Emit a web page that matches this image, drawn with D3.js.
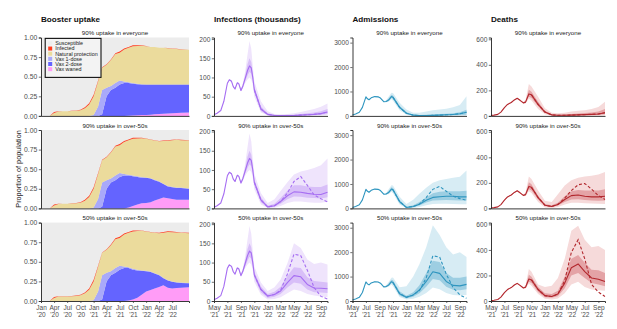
<!DOCTYPE html>
<html><head><meta charset="utf-8">
<script src="https://cdn.jsdelivr.net/npm/d3@7/dist/d3.min.js"></script>
<style>
body{margin:0;background:#fff}
svg{display:block}
text{font-family:"Liberation Sans",Arial,sans-serif}
</style>
</head><body>
<svg id="chart" width="617" height="329"></svg>
<script>
// ---------- Booster uptake: population compartments (proportions) ----------
const popDates = ["2020-03-01","2020-04-01","2020-05-01","2020-06-01","2020-07-01","2020-08-01","2020-09-01","2020-10-01","2020-11-01","2020-12-01",
  "2021-01-01","2021-02-01","2021-03-01","2021-04-01","2021-05-01","2021-06-01","2021-07-01","2021-08-01","2021-09-01","2021-10-01","2021-11-01","2021-12-01",
  "2022-01-01","2022-02-01","2022-03-01","2022-04-01","2022-05-01","2022-06-01","2022-07-01","2022-08-01","2022-09-01","2022-10-26"];
const layerNames = ["Susceptible","Infected","Natural protection","Vax 1-dose","Vax 2-dose","Vax waned"];
const layerColors = ["#ececec","#ff3d1f","#ebdb9c","#a9a9fa","#6464ff","#ff9cf7"];

// scenario 1: 90% uptake in everyone
const s1Infected = [0,.012,.003,.002,.002,.003,.005,.008,.012,.015,.02,.012,.006,.006,.008,.012,.015,.012,.01,.012,.008,.004,.002,.002,.002,.002,.002,.002,.002,.002,.002,.002];
const s1Natural  = [0,.038,.057,.058,.058,.062,.065,.072,.098,.145,.24,.318,.284,.294,.332,.368,.355,.408,.44,.468,.482,.491,.488,.478,.478,.468,.468,.463,.458,.453,.448,.443];
const s1Dose1    = [0,0,0,0,0,0,0,0,0,0,.01,.12,.31,.11,.05,.06,.05,.02,.01,.01,.005,.005,0,0,0,0,0,0,0,0,0,0];
const s1Dose2    = [0,0,0,0,0,0,0,0,0,0,0,0,.02,.25,.33,.36,.40,.42,.418,.405,.397,.39,.387,.384,.38,.377,.374,.37,.367,.364,.36,.357];
const s1Waned    = [0,0,0,0,0,0,0,0,0,0,0,0,0,0,0,0,0,0,.002,.005,.008,.01,.013,.016,.02,.023,.026,.03,.033,.036,.04,.043];
// scenario 2: 90% uptake in over-50s
const s2Infected = [0,.012,.003,.002,.002,.003,.005,.008,.012,.015,.02,.012,.006,.006,.008,.012,.015,.012,.01,.012,.008,.004,.003,.003,.003,.004,.005,.006,.006,.005,.005,.005];
const s2Natural  = [0,.038,.057,.058,.058,.062,.065,.072,.098,.145,.24,.318,.284,.294,.332,.368,.355,.408,.44,.468,.482,.496,.492,.492,.502,.511,.545,.579,.594,.61,.605,.61];
const s2Dose1    = [0,0,0,0,0,0,0,0,0,0,.01,.12,.31,.11,.05,.06,.05,.02,.01,.01,.01,.01,.005,.005,.005,.005,.005,.005,.005,.005,.005,.005];
const s2Dose2    = [0,0,0,0,0,0,0,0,0,0,0,0,.02,.25,.33,.36,.40,.42,.41,.38,.35,.325,.32,.30,.26,.22,.17,.15,.15,.15,.15,.14];
const s2Waned    = [0,0,0,0,0,0,0,0,0,0,0,0,0,0,0,0,0,0,.01,.03,.05,.065,.07,.08,.10,.12,.14,.13,.12,.11,.11,.11];
// scenario 3: 50% uptake in over-50s
const s3Infected = [0,.012,.003,.002,.002,.003,.005,.008,.012,.015,.02,.012,.006,.006,.008,.012,.015,.012,.01,.012,.008,.005,.004,.004,.005,.007,.01,.01,.008,.006,.005,.005];
const s3Natural  = [0,.038,.057,.058,.058,.062,.065,.072,.098,.145,.24,.318,.284,.294,.332,.368,.355,.408,.44,.478,.492,.505,.501,.501,.515,.528,.575,.615,.627,.634,.635,.635];
const s3Dose1    = [0,0,0,0,0,0,0,0,0,0,.01,.12,.31,.11,.05,.06,.05,.02,.01,.01,.01,.005,.005,.005,.005,.005,.005,.005,.005,.005,.005,.005];
const s3Dose2    = [0,0,0,0,0,0,0,0,0,0,0,0,.02,.25,.33,.36,.40,.42,.415,.38,.35,.305,.26,.23,.19,.15,.09,.09,.085,.07,.06,.05];
const s3Waned    = [0,0,0,0,0,0,0,0,0,0,0,0,0,0,0,0,0,0,.005,.02,.04,.08,.12,.14,.16,.18,.20,.17,.16,.165,.17,.175];

const scenarioTitles = ["90% uptake in everyone","90% uptake in over-50s","50% uptake in over-50s"];
const quarterTicks = ["2020-01-01","2020-04-01","2020-07-01","2020-10-01","2021-01-01","2021-04-01","2021-07-01","2021-10-01","2022-01-01","2022-04-01","2022-07-01"];
const bimonthTicks = ["2021-05-01","2021-07-01","2021-09-01","2021-11-01","2022-01-01","2022-03-01","2022-05-01","2022-07-01","2022-09-01"];

// ---------- Outcomes: fitted period ----------
const infFitDates = ["2021-05-01","2021-05-15","2021-06-01","2021-06-15","2021-07-01","2021-07-10","2021-07-20","2021-07-28","2021-08-05","2021-08-15","2021-08-22","2021-09-01","2021-09-10","2021-09-20","2021-10-01","2021-10-10","2021-10-18","2021-10-25"];
const infFitMid  = [3,7,14,38,85,94,90,76,70,86,84,66,78,97,118,130,125,100];
const infFitLo50 = [3,7,14,38,84,93,89,75,69,85,83,65,75,90,105,115,110,90];
const infFitHi50 = [3,7,14,38,86,95,91,77,71,87,85,68,81,104,135,150,140,112];
const infFitLo95 = [3,7,14,37,83,92,88,74,68,83,81,63,72,85,95,100,95,80];
const infFitHi95 = [3,7,14,39,87,96,92,78,72,89,87,70,86,115,160,195,175,130];

const admFitDates = ["2021-05-01","2021-05-15","2021-06-01","2021-06-15","2021-07-01","2021-07-08","2021-07-15","2021-07-25","2021-08-10","2021-08-25","2021-09-05","2021-09-20","2021-10-01","2021-10-12","2021-10-25"];
const admFitMid  = [40,80,150,350,780,700,660,740,790,780,730,580,590,650,790];
const admFitLo50 = [40,80,150,348,775,695,655,735,785,775,725,575,575,615,735];
const admFitHi50 = [40,80,150,352,785,705,665,745,795,785,735,588,615,715,870];
const admFitLo95 = [40,80,150,345,770,690,650,730,780,770,720,570,560,580,680];
const admFitHi95 = [40,80,150,355,790,710,670,750,800,790,740,595,640,780,950];

const dthFitDates = ["2021-05-01","2021-05-15","2021-06-01","2021-06-15","2021-07-01","2021-07-15","2021-08-01","2021-08-15","2021-08-28","2021-09-10","2021-09-25","2021-10-05","2021-10-20"];
const dthFitMid  = [3,6,12,30,65,90,105,125,138,122,102,108,172];
const dthFitLo50 = [3,6,12,30,64,88,104,123,136,120,99,103,150];
const dthFitHi50 = [3,6,12,30,66,92,106,127,140,124,105,115,205];
const dthFitLo95 = [3,6,12,29,63,87,102,121,133,117,96,98,135];
const dthFitHi95 = [3,6,12,31,67,93,108,129,143,127,108,125,250];

// ---------- Outcomes: projections (monthly) ----------
const projDates = ["2021-11-01","2021-12-01","2022-01-01","2022-02-01","2022-03-01","2022-04-01","2022-05-01","2022-06-01","2022-07-01","2022-08-01","2022-09-01","2022-10-01"];

const infA_mid  = [68,18,4,1,1,1,1,2,3,4,6,10];
const infA_dash = [68,18,4,1,1,1,1,2,3,4,6,10];
const infA_lo50 = [60,13,2,0,0,0,0,1,1,2,3,5];
const infA_hi50 = [76,25,7,3,2,3,3,5,7,9,12,18];
const infA_lo95 = [50,9,1,0,0,0,0,0,0,1,1,2];
const infA_hi95 = [90,38,12,5,4,5,7,10,14,18,24,32];

const infB_mid  = [68,22,4,7,18,33,43,42,39,37,36,42];
const infB_dash = [68,22,4,7,18,40,70,83,60,35,25,17];
const infB_lo50 = [60,16,2,4,12,24,31,30,28,27,26,29];
const infB_hi50 = [76,29,7,12,27,46,60,60,57,56,56,62];
const infB_lo95 = [50,10,1,2,6,14,18,18,16,15,15,17];
const infB_hi95 = [90,40,14,24,45,68,88,96,100,105,112,130];

const infC_mid  = [68,30,13,17,26,48,66,63,43,34,33,32];
const infC_dash = [68,30,13,17,28,70,122,118,80,35,12,5];
const infC_lo50 = [60,23,8,11,18,35,48,45,30,23,22,21];
const infC_hi50 = [76,38,18,24,37,65,88,86,62,52,50,48];
const infC_lo95 = [50,16,4,5,10,20,30,26,18,14,12,10];
const infC_hi95 = [90,48,26,36,56,98,150,138,108,96,100,95];

const admA_mid  = [760,350,110,30,15,15,20,30,45,60,90,150];
const admA_dash = [760,350,110,30,15,15,20,30,45,60,90,150];
const admA_lo50 = [700,300,85,20,10,10,12,15,20,25,35,50];
const admA_hi50 = [840,420,160,50,35,45,60,75,90,110,150,250];
const admA_lo95 = [620,230,50,6,3,3,3,4,5,6,8,10];
const admA_hi95 = [940,540,260,130,130,180,230,260,290,350,450,800];

const admB_mid  = [760,280,40,80,170,330,450,480,500,500,470,470];
const admB_dash = [760,280,40,80,175,450,780,900,700,500,400,330];
const admB_lo50 = [700,220,20,50,120,240,320,330,340,330,320,320];
const admB_hi50 = [840,350,70,130,260,450,620,680,700,700,700,720];
const admB_lo95 = [620,160,8,20,60,130,180,190,190,180,170,170];
const admB_hi95 = [940,480,180,350,600,850,1050,1150,1200,1250,1300,1550];

const admC_mid  = [760,300,150,250,450,800,1200,1130,800,640,620,680];
const admC_dash = [760,300,150,250,420,950,1850,1800,1100,550,250,110];
const admC_lo50 = [690,230,100,170,320,580,900,850,580,460,440,480];
const admC_hi50 = [850,400,220,360,650,1150,1650,1600,1150,950,950,1000];
const admC_lo95 = [600,160,60,90,170,330,550,480,330,250,230,250];
const admC_hi95 = [960,560,600,1000,1500,2200,3100,2700,2200,1900,2000,1800];

const dthA_mid  = [165,90,30,8,5,5,6,8,10,12,15,25];
const dthA_dash = [165,90,30,8,5,5,6,8,10,12,15,25];
const dthA_lo50 = [140,75,22,5,3,3,3,4,5,6,8,12];
const dthA_hi50 = [190,110,40,12,8,10,14,18,22,27,35,55];
const dthA_lo95 = [120,55,12,2,1,1,1,1,1,2,2,3];
const dthA_hi95 = [230,150,60,25,20,25,35,40,45,55,70,110];

const dthB_mid  = [165,85,25,15,30,70,100,105,95,90,90,95];
const dthB_dash = [165,85,25,15,32,80,140,185,195,150,100,70];
const dthB_lo50 = [140,70,18,10,22,50,70,72,65,62,60,62];
const dthB_hi50 = [190,100,35,25,45,95,135,145,140,140,140,150];
const dthB_lo95 = [120,50,8,4,10,30,45,45,40,38,36,35];
const dthB_hi95 = [230,140,60,50,110,180,220,240,250,255,265,285];

const dthC_mid  = [165,90,42,35,55,140,260,290,230,180,170,152];
const dthC_dash = [165,90,42,35,55,160,380,480,330,130,70,35];
const dthC_lo50 = [140,70,30,25,38,100,200,220,180,140,130,115];
const dthC_hi50 = [190,110,60,55,80,190,330,360,300,245,240,220];
const dthC_lo95 = [120,55,18,12,20,60,130,150,110,90,85,80];
const dthC_hi95 = [230,130,110,120,180,330,550,590,480,420,430,400];

// ---------- layout ----------
const parse = d3.timeParse("%Y-%m-%d");
const svg = d3.select("#chart");
const rowTops = [37.5, 130, 222.6];
const rowH = 78.4;
const tickFill = "#4d4d4d";
const monthFmt = d3.timeFormat("%b");
const yearFmt = d => "'" + d3.timeFormat("%y")(d);

function styleAxis(g, fs) {
  g.select(".domain").attr("stroke", "#222").attr("stroke-width", 0.9);
  g.selectAll(".tick line").attr("stroke", "#333").attr("stroke-width", 0.7);
  g.selectAll(".tick text").attr("fill", tickFill).attr("font-size", fs)
    .attr("font-family", '"Liberation Sans", Arial, sans-serif');
}

function bottomAxis(x, y0, tickDates, withLabels) {
  const g = svg.append("g").attr("transform", `translate(0,${y0})`)
    .call(d3.axisBottom(x).tickValues(tickDates.map(parse)).tickSize(withLabels ? 2 : 0).tickFormat(""));
  styleAxis(g, 6.5);
  if (withLabels) {
    g.selectAll(".tick").each(function(d) {
      const t = d3.select(this).append("text").attr("fill", tickFill).attr("font-size", 6.5)
        .attr("text-anchor", "middle").attr("y", 9.3);
      t.append("tspan").attr("x", 0).text(monthFmt(d));
      t.append("tspan").attr("x", 0).attr("dy", 7).text(yearFmt(d));
    });
  }
}

function panelTitle(text, xMid, top) {
  svg.append("text").attr("x", xMid).attr("y", top - 2.4).attr("text-anchor", "middle")
    .attr("font-size", 6.2).attr("fill", "#222").text(text);
}

// column headings
const headings = [["Booster uptake", 41], ["Infections (thousands)", 214], ["Admissions", 352.5], ["Deaths", 491]];
headings.forEach(([t, x]) => svg.append("text").attr("x", x).attr("y", 22.3)
  .attr("font-size", 8.1).attr("font-weight", "bold").attr("fill", "#111").text(t));

// y title
svg.append("text").attr("transform", "translate(21,169) rotate(-90)").attr("text-anchor", "middle")
  .attr("font-size", 7.3).attr("fill", "#222").text("Proportion of population");

// ---------- column 1: stacked compartments ----------
const xPop = d3.scaleTime().domain([parse("2020-01-01"), parse("2022-10-26")]).range([41, 189]);
const scenarios = [
  [s1Waned, s1Dose2, s1Dose1, s1Natural, s1Infected],
  [s2Waned, s2Dose2, s2Dose1, s2Natural, s2Infected],
  [s3Waned, s3Dose2, s3Dose1, s3Natural, s3Infected]
];
const stackKeys = ["waned", "dose2", "dose1", "natural", "infected"];
const stackColors = { waned: layerColors[5], dose2: layerColors[4], dose1: layerColors[3], natural: layerColors[2], infected: layerColors[1] };

scenarios.forEach((arrs, r) => {
  const top = rowTops[r], bottom = top + rowH;
  const y = d3.scaleLinear().domain([0, 1]).range([bottom, top]);
  const rows = popDates.map((d, i) => {
    const o = { date: parse(d) };
    stackKeys.forEach((k, j) => o[k] = arrs[j][i]);
    return o;
  });
  // susceptible fills the rest of the panel
  svg.append("rect").attr("x", xPop.range()[0]).attr("y", top)
    .attr("width", xPop.range()[1] - xPop.range()[0]).attr("height", rowH).attr("fill", layerColors[0]);
  const series = d3.stack().keys(stackKeys)(rows);
  const area = d3.area().x(d => xPop(d.data.date)).y0(d => y(d[0])).y1(d => y(d[1]));
  svg.append("g").selectAll("path").data(series).join("path")
    .attr("d", area).attr("fill", s => stackColors[s.key]);
  const ay = svg.append("g").attr("transform", "translate(41,0)")
    .call(d3.axisLeft(y).tickValues([0, .25, .5, .75, 1]).tickFormat(d3.format(".2f")).tickSize(2.2).tickPadding(1.5));
  styleAxis(ay, 6.8);
  bottomAxis(xPop, bottom, quarterTicks, r === 2);
  panelTitle(scenarioTitles[r], 115, top);
});

// legend
const leg = svg.append("g").attr("transform", "translate(45.2,38.4)");
leg.append("rect").attr("width", 55.8).attr("height", 39).attr("fill", "#f3f3f3").attr("stroke", "#111").attr("stroke-width", 1.1);
layerNames.forEach((n, i) => {
  const yy = 5 + i * 5.15;
  leg.append("rect").attr("x", 3).attr("y", yy - 2).attr("width", 4).attr("height", 4).attr("fill", layerColors[i]);
  leg.append("text").attr("x", 10).attr("y", yy + 1.9).attr("font-size", 5.4).attr("fill", "#222").text(n);
});

// ---------- columns 2-4: fitted + projected outcomes ----------
const metrics = [
  { x0: 214, x1: 327.5, ymax: 204, ticks: [0, 50, 100, 150, 200], line: "#a66ef2", c50: "#d8bff8", c95: "#efe4fc",
    fitDates: infFitDates, fit: [infFitMid, infFitLo50, infFitHi50, infFitLo95, infFitHi95],
    rows: [[infA_mid, infA_dash, infA_lo50, infA_hi50, infA_lo95, infA_hi95],
           [infB_mid, infB_dash, infB_lo50, infB_hi50, infB_lo95, infB_hi95],
           [infC_mid, infC_dash, infC_lo50, infC_hi50, infC_lo95, infC_hi95]] },
  { x0: 352.5, x1: 466.5, ymax: 3210, ticks: [0, 1000, 2000, 3000], line: "#2e95bf", c50: "#9dcee2", c95: "#d7ecf4",
    fitDates: admFitDates, fit: [admFitMid, admFitLo50, admFitHi50, admFitLo95, admFitHi95],
    rows: [[admA_mid, admA_dash, admA_lo50, admA_hi50, admA_lo95, admA_hi95],
           [admB_mid, admB_dash, admB_lo50, admB_hi50, admB_lo95, admB_hi95],
           [admC_mid, admC_dash, admC_lo50, admC_hi50, admC_lo95, admC_hi95]] },
  { x0: 491, x1: 605, ymax: 614, ticks: [0, 200, 400, 600], line: "#b2272d", c50: "#e4a3a6", c95: "#f6dada",
    fitDates: dthFitDates, fit: [dthFitMid, dthFitLo50, dthFitHi50, dthFitLo95, dthFitHi95],
    rows: [[dthA_mid, dthA_dash, dthA_lo50, dthA_hi50, dthA_lo95, dthA_hi95],
           [dthB_mid, dthB_dash, dthB_lo50, dthB_hi50, dthB_lo95, dthB_hi95],
           [dthC_mid, dthC_dash, dthC_lo50, dthC_hi50, dthC_lo95, dthC_hi95]] }
];

metrics.forEach(m => {
  const x = d3.scaleTime().domain([parse("2021-05-01"), parse("2022-10-01")]).range([m.x0, m.x1]);
  m.rows.forEach((rw, r) => {
    const top = rowTops[r], bottom = top + rowH;
    const y = d3.scaleLinear().domain([0, m.ymax]).range([bottom, top]);
    const [mid, dash, lo50, hi50, lo95, hi95] = rw;
    const [fMid, fLo50, fHi50, fLo95, fHi95] = m.fit;
    const dates = m.fitDates.concat(projDates).map(parse);
    const pts = dates.map((d, i) => ({
      date: d,
      mid: fMid.concat(mid)[i],
      lo50: fLo50.concat(lo50)[i], hi50: fHi50.concat(hi50)[i],
      lo95: fLo95.concat(lo95)[i], hi95: fHi95.concat(hi95)[i]
    }));
    const band = (lo, hi) => d3.area().x(d => x(d.date)).y0(d => y(d[lo])).y1(d => y(d[hi]));
    svg.append("path").datum(pts).attr("d", band("lo95", "hi95")).attr("fill", m.c95);
    svg.append("path").datum(pts).attr("d", band("lo50", "hi50")).attr("fill", m.c50);
    svg.append("path").datum(pts)
      .attr("d", d3.line().x(d => x(d.date)).y(d => y(d.mid)))
      .attr("fill", "none").attr("stroke", m.line).attr("stroke-width", 1.1).attr("stroke-linejoin", "round");
    const dashPts = projDates.map((d, i) => ({ date: parse(d), v: dash[i] }));
    svg.append("path").datum(dashPts)
      .attr("d", d3.line().x(d => x(d.date)).y(d => y(d.v)))
      .attr("fill", "none").attr("stroke", m.line).attr("stroke-width", 1.1).attr("stroke-dasharray", "3,2");
    const ay = svg.append("g").attr("transform", `translate(${m.x0},0)`)
      .call(d3.axisLeft(y).tickValues(m.ticks).tickFormat(d3.format("d")).tickSize(2.2).tickPadding(1.5));
    styleAxis(ay, 6.6);
    bottomAxis(x, bottom, bimonthTicks, r === 2);
    panelTitle(scenarioTitles[r], (m.x0 + m.x1) / 2, top);
  });
});
</script>
</body></html>
